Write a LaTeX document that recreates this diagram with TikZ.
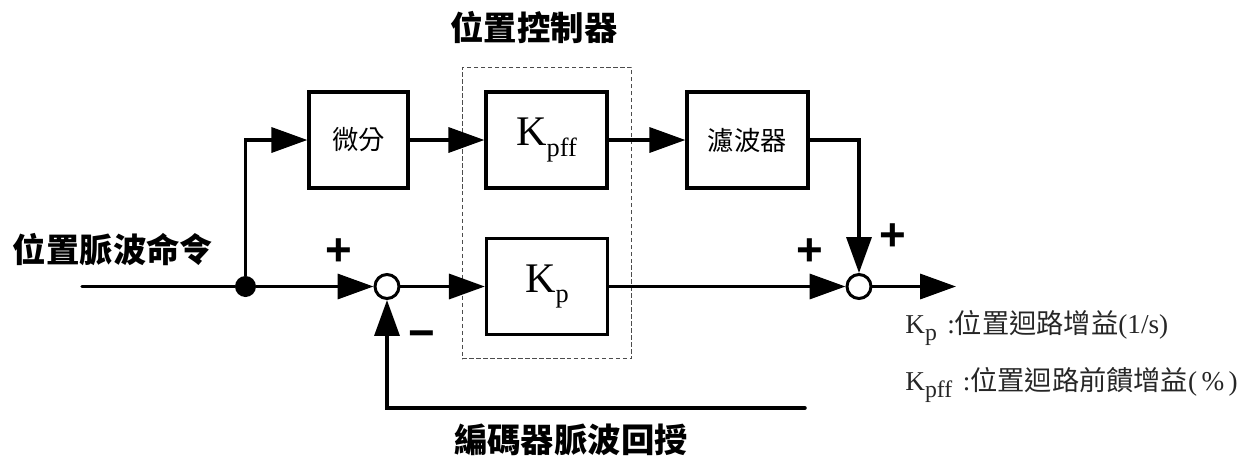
\documentclass[tikz,border=0pt]{standalone}
\usepackage{fontspec}
\setmainfont{Liberation Serif}
\newfontfamily\cjk{Noto Sans CJK TC}
\newfontfamily\signfont{Liberation Sans}
\usepackage{tikz}
\usetikzlibrary{arrows.meta}

\newcommand{\gainbig}[1]{{\fontsize{24}{24}\selectfont K\raisebox{-6pt}{\fontsize{15}{15}\selectfont #1}}}
\newcommand{\gainsmall}[1]{K\raisebox{-4pt}{\fontsize{13.5}{13.5}\selectfont #1}\hspace{6pt}:}

\tikzset{
  sig/.style={line width=0.07cm, line cap=round},
  >={Triangle[length=0.72cm,width=0.5cm]},
  blockbox/.style={draw, line width=0.065cm, inner sep=0pt, minimum width=2.42cm, minimum height=1.92cm},
  sumnode/.style={circle, draw, fill=white, line width=0.06cm, inner sep=0pt, minimum size=0.48cm},
  dotnode/.style={circle, fill=black, inner sep=0pt, minimum size=0.42cm},
  boldlabel/.style={font=\cjk\bfseries\fontsize{19}{19}\selectfont, inner sep=0pt},
  boxlabel/.style={font=\cjk\fontsize{15}{15}\selectfont},
  signlabel/.style={font=\signfont\bfseries\fontsize{26}{26}\selectfont, inner sep=0pt},
  legend/.style={anchor=base west, inner sep=0pt, text=black!85, font=\fontsize{15.5}{15.5}\selectfont}
}

\begin{document}
\begin{tikzpicture}[x=0.02cm,y=-0.02cm]
\useasboundingbox (0,0) rectangle (1255,457);
\node [draw=black!70, dash pattern=on 0.09cm off 0.05cm, line width=0.02cm, minimum width=3.4cm, minimum height=5.84cm] (ctrl) at (547,213) {};
\node [boldlabel] (ctrltitle) at (534,28) {位置控制器};
\node [boldlabel] (cmdlabel) at (113,250) {位置脈波命令};
\node [boldlabel] (fblabel) at (571,440) {編碼器脈波回授};

\node [blockbox, minimum width=1.98cm, boxlabel] (diff) at (358.5,140) {微分};
\node [blockbox] (kpff) at (546.5,140) {\gainbig{pff}};
\node [blockbox, boxlabel] (filt) at (747.5,140) {濾波器};
\node [blockbox] (kp) at (547,286.5) {\gainbig{p}};

\coordinate (in) at (82,286.5);
\node [dotnode] (dot) at (245.5,286.5) {};
\node [sumnode] (sum1) at (387,286.5) {};
\node [sumnode] (sum2) at (859,286.5) {};
\coordinate (out) at (956,286.5);
\coordinate (fb) at (805,408);

\draw [sig] (in) -- (dot);
\draw [sig,->] (dot) -- (sum1);
\draw [sig,->] (dot) |- (diff);
\draw [sig,->] (diff) -- (kpff);
\draw [sig,->] (kpff) -- (filt);
\draw [sig,->] (filt) -| (sum2);
\draw [sig,->] (sum1) -- (kp);
\draw [sig,->] (kp) -- (sum2);
\draw [sig,->] (sum2) -- (out);
\draw [sig,->] (fb) -| (sum1);

\node [signlabel] (plus1) at (339,252) {+};
\node [signlabel] (minus1) at (422,340) {−};
\node [signlabel] (plus2) at (810,252) {+};
\node [signlabel] (plus3) at (893,237) {+};

\node [legend] (legkp) at (905,333) {\gainsmall{p}{\cjk 位置迴路增益}(1/s)};
\node [legend] (legkpff) at (905,390) {\gainsmall{pff}{\cjk 位置迴路前饋增益}(\hspace{2.5pt}\%\hspace{2.5pt})};
\end{tikzpicture}
\end{document}
